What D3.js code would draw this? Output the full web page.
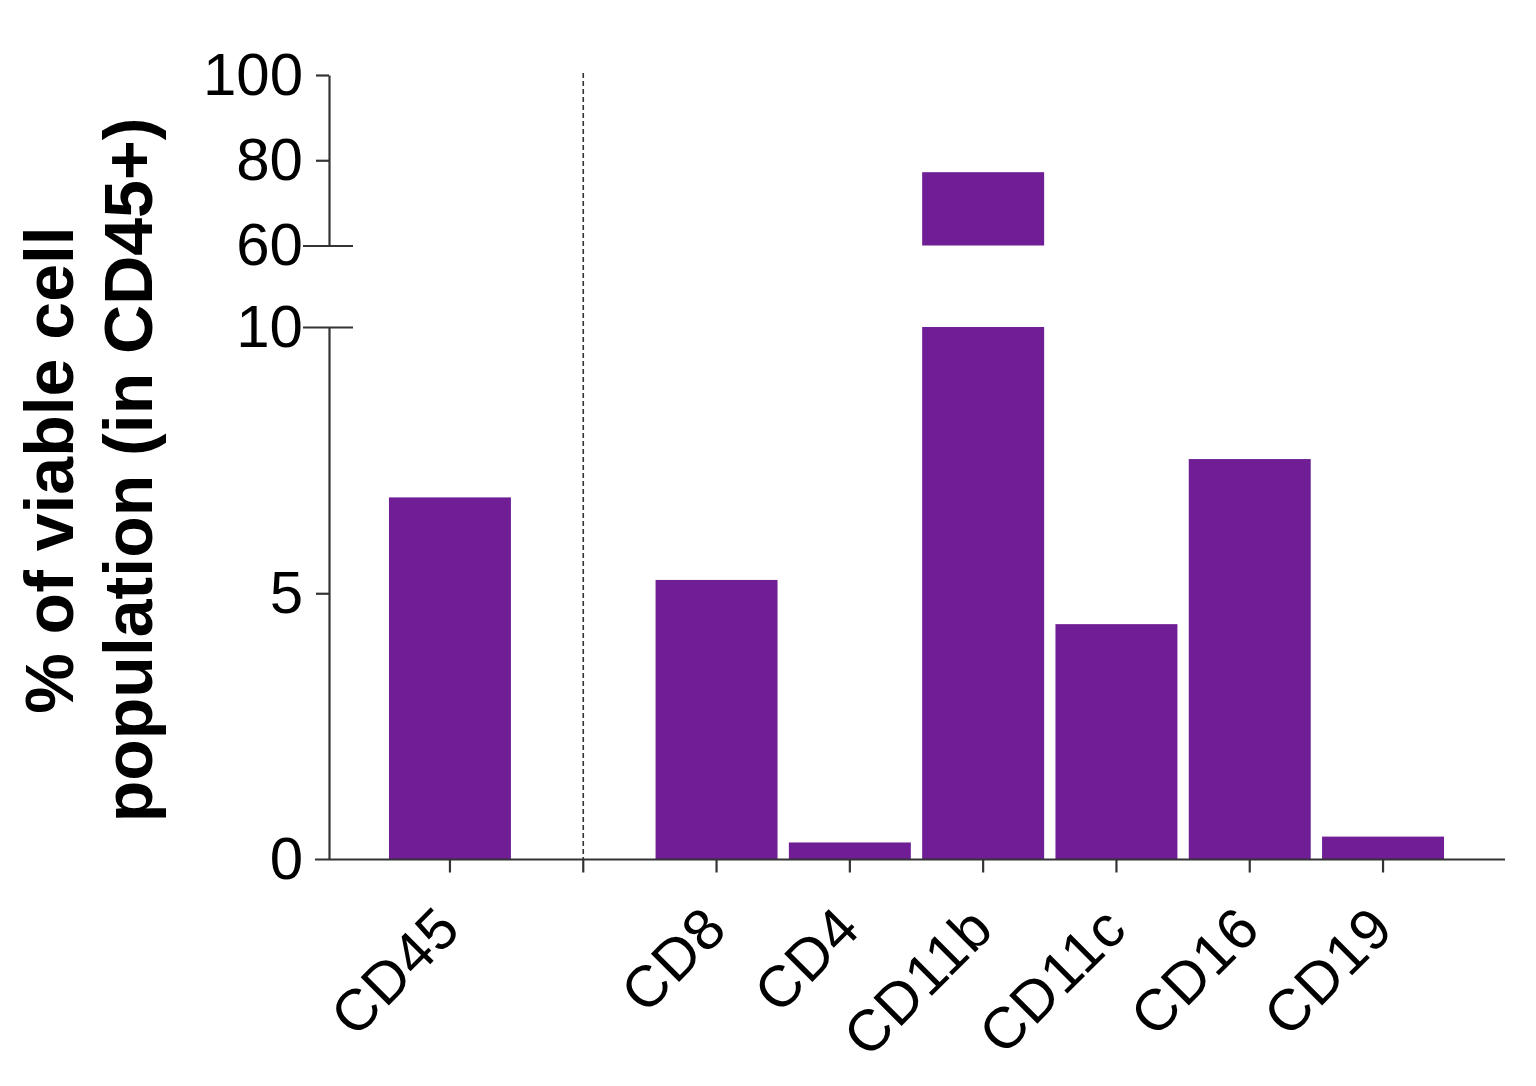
<!DOCTYPE html>
<html>
<head>
<meta charset="utf-8">
<script src="https://cdn.jsdelivr.net/npm/d3@7"></script>
<style>
  html, body { margin: 0; padding: 0; background: #fff; }
  svg { display: block; }
</style>
</head>
<body>
<svg id="chart" width="1536" height="1086"></svg>
<script>
// ---- data ----
const categories = ["CD45", "", "CD8", "CD4", "CD11b", "CD11c", "CD16", "CD19"];
const values = [6.8, null, 5.25, 0.32, 77.2, 4.42, 7.52, 0.43];
const lowTicks = [0, 5, 10];
const highTicks = [60, 80, 100];
const breakTicks = [10, 60];
const yTitleLines = ["% of viable cell", "population (in CD45+)"];

// ---- layout ----
const svg = d3.select("#chart");
const axisColor = "#333";
const barColor = "#701e96";
const axisX = 329;
const baseY = 859.5;
const fontFam = "'Liberation Sans', Arial, Helvetica, sans-serif";

const x = d3.scaleBand()
  .domain(categories)
  .range([383.3, 383.3 + 8 * 133.3])
  .paddingInner(0.085)
  .paddingOuter(0.0425);

const yLow = d3.scaleLinear().domain([0, 10]).range([baseY, 327]);
const yHigh = d3.scaleLinear().domain([60, 100]).range([245.5, 75]);

const data = categories.map((c, i) => ({ c, v: values[i] })).filter(d => d.v !== null);

// bars (lower segment)
svg.append("g").selectAll("rect")
  .data(data)
  .join("rect")
  .attr("x", d => x(d.c))
  .attr("width", x.bandwidth())
  .attr("y", d => yLow(Math.min(d.v, 10)))
  .attr("height", d => yLow(0) - yLow(Math.min(d.v, 10)))
  .attr("fill", barColor);

// bars (upper segment)
svg.append("g").selectAll("rect")
  .data(data.filter(d => d.v > 60))
  .join("rect")
  .attr("x", d => x(d.c))
  .attr("width", x.bandwidth())
  .attr("y", d => yHigh(d.v))
  .attr("height", d => yHigh(60) - yHigh(d.v))
  .attr("fill", barColor);

// dashed separator at the gap slot
const gapX = x("") + x.bandwidth() / 2;
svg.append("line")
  .attr("x1", gapX).attr("x2", gapX)
  .attr("y1", 73).attr("y2", baseY)
  .attr("stroke", axisColor)
  .attr("stroke-width", 1.6)
  .attr("stroke-dasharray", "5,3");

// y axes
function styleYAxis(g) {
  g.select(".domain").attr("stroke", axisColor).attr("stroke-width", 2.2);
  g.selectAll(".tick line").attr("stroke", axisColor).attr("stroke-width", 2.2);
  g.selectAll(".tick text")
    .attr("fill", "#000")
    .style("font-family", fontFam)
    .style("font-size", "60px");
  g.selectAll(".tick").filter(d => breakTicks.includes(d)).select("line")
    .attr("x1", 24).attr("x2", -26);
}

const gLow = svg.append("g")
  .attr("transform", `translate(${axisX},0)`)
  .call(d3.axisLeft(yLow).tickValues(lowTicks).tickSize(13).tickSizeOuter(0).tickPadding(13).tickFormat(d3.format("d")));
styleYAxis(gLow);
gLow.selectAll(".tick").filter(d => d === 0).select("line").remove();

const gHigh = svg.append("g")
  .attr("transform", `translate(${axisX},0)`)
  .call(d3.axisLeft(yHigh).tickValues(highTicks).tickSize(13).tickSizeOuter(0).tickPadding(13).tickFormat(d3.format("d")));
styleYAxis(gHigh);

// x axis
const gX = svg.append("g")
  .attr("transform", `translate(0,${baseY})`)
  .call(d3.axisBottom(x).tickSize(13).tickSizeOuter(0));
gX.select(".domain").remove();
gX.selectAll(".tick line").attr("stroke", axisColor).attr("stroke-width", 2.2);
gX.selectAll(".tick text")
  .attr("fill", "#000")
  .attr("x", 0).attr("y", 0).attr("dy", 0)
  .attr("text-anchor", "end")
  .attr("transform", "translate(13,72) rotate(-45)")
  .style("font-family", fontFam)
  .style("font-size", "58px")
  .style("letter-spacing", "1px");
svg.append("line")
  .attr("x1", 315).attr("x2", 1505)
  .attr("y1", baseY).attr("y2", baseY)
  .attr("stroke", axisColor).attr("stroke-width", 2.2);

// y title
const title = svg.append("text")
  .attr("transform", "translate(0,470) rotate(-90)")
  .attr("text-anchor", "middle")
  .style("font-family", fontFam)
  .style("font-weight", "bold")
  .style("font-size", "68px")
  .attr("fill", "#000");
title.selectAll("tspan")
  .data(yTitleLines)
  .join("tspan")
  .attr("x", 0)
  .attr("y", (d, i) => 73 + i * 79)
  .text(d => d);
</script>
</body>
</html>
